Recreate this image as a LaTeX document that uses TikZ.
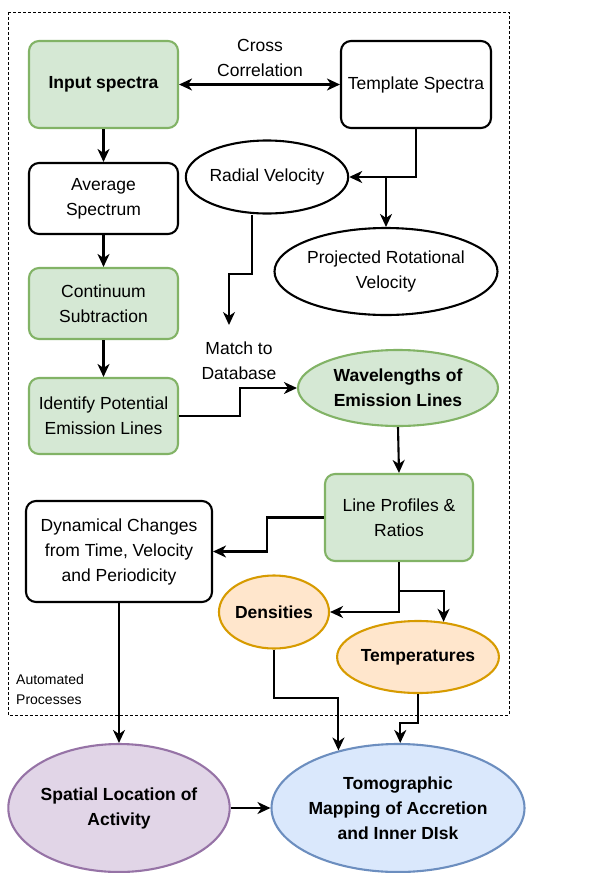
\documentclass[tikz,border=0pt]{standalone}
\usepackage{fontspec}
\setmainfont{Liberation Sans}
\usetikzlibrary{shapes.geometric,arrows.meta,calc}
\begin{document}
\begin{tikzpicture}[x=1pt,y=-1pt,
  every node/.style={font=\fontsize{17.5}{25}\selectfont, align=center, inner sep=0pt},
  box/.style={draw=black, fill=white, line width=2.1pt, rounded corners=10pt},
  gbox/.style={draw={rgb,255:red,130;green,179;blue,102}, fill={rgb,255:red,213;green,232;blue,212}, line width=2.1pt, rounded corners=10pt},
  oval/.style={ellipse, draw=black, fill=white, line width=2.1pt},
  goval/.style={ellipse, draw={rgb,255:red,130;green,179;blue,102}, fill={rgb,255:red,213;green,232;blue,212}, line width=2.1pt},
  ooval/.style={ellipse, draw={rgb,255:red,215;green,155;blue,0}, fill={rgb,255:red,255;green,230;blue,204}, line width=2.1pt},
  poval/.style={ellipse, draw={rgb,255:red,150;green,115;blue,166}, fill={rgb,255:red,225;green,213;blue,231}, line width=2.1pt},
  boval/.style={ellipse, draw={rgb,255:red,108;green,142;blue,191}, fill={rgb,255:red,218;green,232;blue,252}, line width=2.1pt},
  arr/.style={line width=2.1pt, -{Stealth[length=13pt,width=12pt,inset=4pt]}},
  darr/.style={line width=2.1pt, {Stealth[length=13pt,width=12pt,inset=4pt]}-{Stealth[length=13pt,width=12pt,inset=4pt]}},
  lbl/.style={font=\fontsize{17.5}{25}\selectfont}
]
\useasboundingbox (0,0) rectangle (608,873);
% container
\draw[line width=1pt, dash pattern=on 3pt off 2pt] (8,12) rectangle (509,715);
\node[font=\fontsize{14}{20}\selectfont, align=left, anchor=north west] (auto) at (16,674) {Automated\\Processes};

% nodes
\node[gbox, minimum width=149pt, minimum height=87pt] (inp) at (103.5,84.5) {\bfseries Input spectra};
\node[box, minimum width=150pt, minimum height=87pt] (tmp) at (416,84.5) {Template Spectra};
\node[lbl] (cc) at (260,58) {Cross\\Correlation};
\node[box, minimum width=149pt, minimum height=71pt] (avg) at (103.5,198.5) {Average\\Spectrum};
\node[gbox, minimum width=149pt, minimum height=71pt] (cont) at (103.5,303.5) {Continuum\\Subtraction};
\node[gbox, minimum width=149pt, minimum height=76pt] (ident) at (103.5,416) {Identify Potential\\Emission Lines};
\node[oval, minimum width=157pt, minimum height=73pt] (rv) at (267,177) {Radial Velocity};
\node[oval, minimum width=223pt, minimum height=87pt] (prv) at (386,271.5) {Projected Rotational\\Velocity};
\node[lbl] (match) at (239,361) {Match to\\Database};
\node[goval, minimum width=200pt, minimum height=76pt] (wl) at (398,388) {\bfseries Wavelengths of\\\bfseries Emission Lines};
\node[gbox, minimum width=148pt, minimum height=87pt] (lp) at (399,517.5) {Line Profiles \&\\Ratios};
\node[box, minimum width=186pt, minimum height=101pt] (dyn) at (119,551.5) {Dynamical Changes\\from Time, Velocity\\and Periodicity};
\node[ooval, minimum width=98pt, minimum height=73pt] (dens) at (274,612) {\bfseries Densities};
\node[ooval, minimum width=146pt, minimum height=72pt] (temp) at (418,657) {\bfseries Temperatures};
\node[poval, minimum width=180pt, minimum height=128pt] (sp) at (119,808) {\bfseries Spatial Location of\\\bfseries Activity};
\node[boval, minimum width=248pt, minimum height=128pt] (tomo) at (398,808) {\bfseries Tomographic\\\bfseries Mapping of Accretion\\\bfseries and Inner DIsk};

% coordinates
\coordinate (b1) at (386,177);
\coordinate (mend) at (229,325);
\coordinate (b2) at (399,591);

% connectors
\draw[darr] (inp.east) -- (tmp.west);
\draw[arr] (inp.south) -- (avg.north);
\draw[arr] (avg.south) -- (cont.north);
\draw[arr] (cont.south) -- (ident.north);
\draw[arr] (tmp.south) |- (rv.east);
\draw[arr] (b1) -- (prv.north);
\draw[arr] ([xshift=-15pt]rv.south) -- ++(0,59) -| (mend);
\draw[arr] (ident.east) -- ++(61,0) |- (wl.west);
\draw[arr] (wl.south) -- (lp.north);
\draw[arr] (lp.west) -- ++(-57,0) |- (dyn.east);
\draw[arr] (lp.south) |- (dens.east);
\draw[arr] (b2) -| (temp.54);
\draw[arr] (dens.south) -- ++(0,48) -| (tomo.136);
\draw[arr] (temp.south) -- ++(0,29) -| (tomo.88);
\draw[arr] (dyn.south) -- (sp.north);
\draw[arr] (sp.east) -- (tomo.west);
\end{tikzpicture}
\end{document}
